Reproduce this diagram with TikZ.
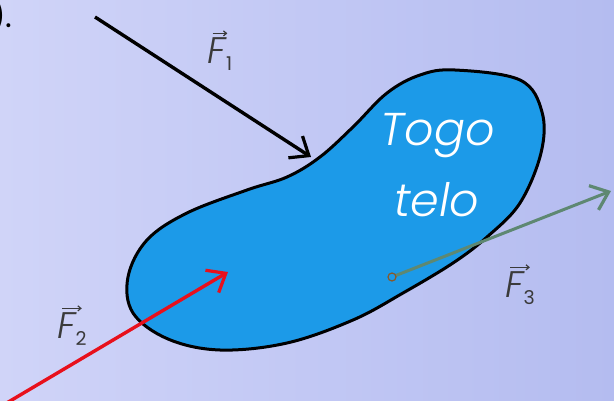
\documentclass[tikz,border=0pt]{standalone}
\usepackage{fontspec}
\setsansfont{Poppins}[ItalicFont={Poppins Light Italic}]
\usetikzlibrary{arrows.meta}
\definecolor{bgl}{HTML}{D0D4F8}
\definecolor{bgr}{HTML}{B4BCF0}
\definecolor{blobc}{HTML}{1C9AE8}
\definecolor{fred}{HTML}{E8101C}
\definecolor{fgreen}{HTML}{5E8872}
\definecolor{labc}{HTML}{3A3A3A}
\tikzset{
  force/.style={line width=3.4pt, -{Straight Barb[length=16pt,width=26pt,line width=3.2pt]}},
  flabel/.style={text=labc, inner sep=0pt, font=\sffamily\itshape\fontsize{37}{37}\selectfont},
  vecarrow/.style={draw=labc, line width=1.4pt, -{Straight Barb[length=3pt,width=5pt,line width=1.2pt]}},
  bodytext/.style={text=white, font=\sffamily\itshape\fontsize{46}{46}\selectfont, align=center}
}
\newcommand{\fsub}[1]{\raisebox{-7pt}{\fontsize{19}{19}\selectfont\upshape #1}}
\begin{document}
\begin{tikzpicture}[x=1pt,y=-1pt]
\useasboundingbox (0,0) rectangle (614,401);
\clip (0,0) rectangle (614,401);
\shade[left color=bgl, right color=bgr] (0,0) rectangle (614,401);
\node[anchor=east, font=\sffamily\fontsize{32}{32}\selectfont] (lbl) at (16,16) {b).};
% body
\draw[fill=blobc, line width=3pt] plot[smooth cycle, tension=0.6] coordinates {
 (455,70) (520,80) (542,112) (541,153) (520,203) (487,237) (453,263) (403,293)
 (353,320) (287,343) (220,350) (168,339) (133,313) (128,277) (147,240) (187,213)
 (247,190) (287,177) (320,157) (353,127) (387,93) (420,75)};
\node[bodytext] (togo) at (438,136) {Togo};
\node[bodytext] (telo) at (437,200) {telo};
% forces
\coordinate (f1s) at (95,17);
\coordinate (f1e) at (311,157);
\coordinate (f2s) at (5,404);
\coordinate (f2e) at (228,272);
\coordinate (f3s) at (392,277);
\coordinate (f3e) at (611,191);
\draw[force, black] (f1s) -- (f1e);
\draw[force, fred] (f2s) -- (f2e);
\draw[force, fgreen, line width=3pt] (f3s) -- (f3e);
\draw[draw=brown!70!black, line width=1.2pt, fill=blobc] (f3s) circle (4pt);
% labels
\node[flabel] (l1) at (220,54) {F\fsub{1}};
\node[flabel] (l2) at (72,329) {F\fsub{2}};
\node[flabel] (l3) at (520,288) {F\fsub{3}};
\draw[vecarrow] ([xshift=5pt,yshift=4pt]l1.north west) -- ([xshift=-5pt,yshift=4pt]l1.north east);
\draw[vecarrow] ([xshift=5pt,yshift=4pt]l2.north west) -- ([xshift=-5pt,yshift=4pt]l2.north east);
\draw[vecarrow] ([xshift=5pt,yshift=4pt]l3.north west) -- ([xshift=-5pt,yshift=4pt]l3.north east);
\end{tikzpicture}
\end{document}
